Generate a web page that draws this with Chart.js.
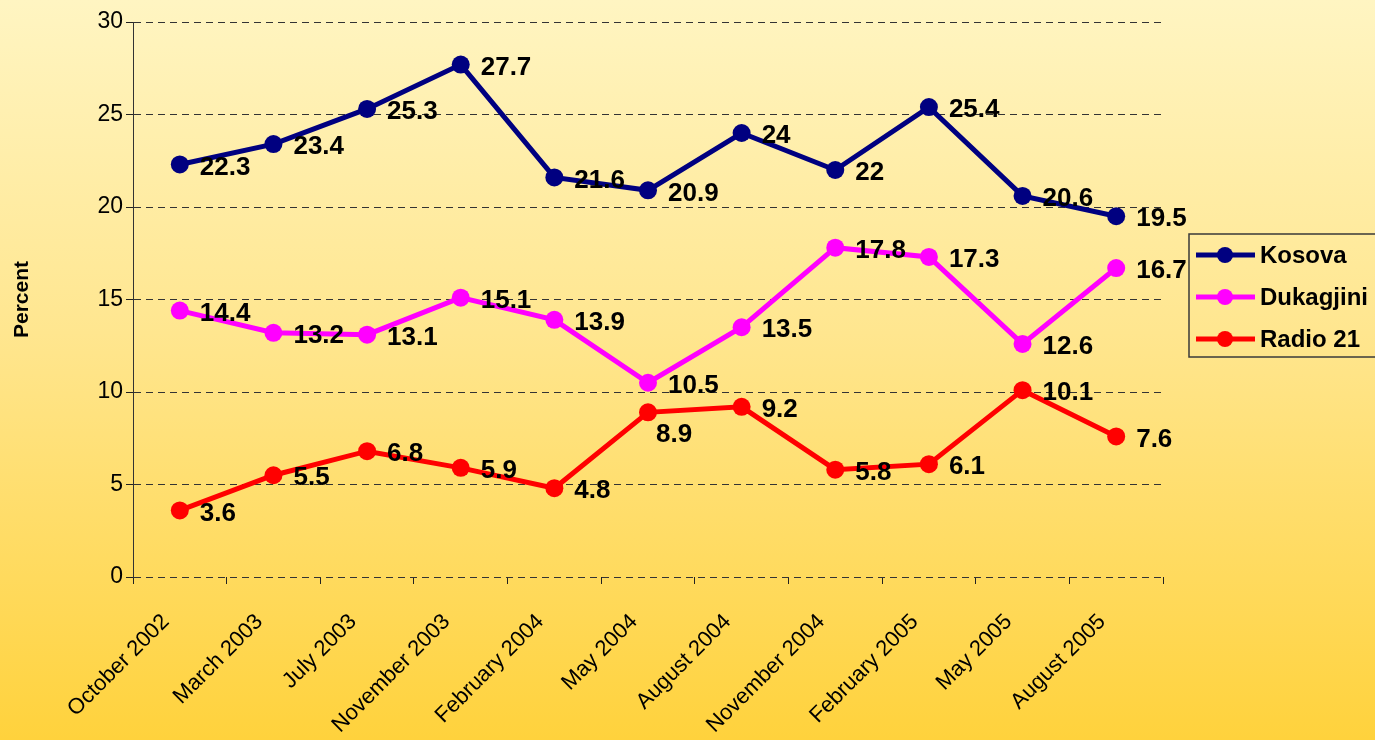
<!DOCTYPE html>
<html>
<head>
<meta charset="utf-8">
<script src="https://cdn.jsdelivr.net/npm/chart.js@4.4.1/dist/chart.umd.min.js"></script>
<style>
  html, body { margin: 0; padding: 0; }
  body {
    width: 1375px;
    height: 740px;
    overflow: hidden;
    background: linear-gradient(to bottom, #fff5c2 0%, #ffe68f 45%, #ffd23c 100%);
  }
  canvas { display: block; }
</style>
</head>
<body>
<canvas id="pollChart" width="1375" height="740"></canvas>
<script>
// values
const months = ["October 2002", "March 2003", "July 2003", "November 2003", "February 2004",
    "May 2004", "August 2004", "November 2004", "February 2005", "May 2005", "August 2005"];
const kosova = [22.3, 23.4, 25.3, 27.7, 21.6, 20.9, 24, 22, 25.4, 20.6, 19.5];
const dukagjini = [14.4, 13.2, 13.1, 15.1, 13.9, 10.5, 13.5, 17.8, 17.3, 12.6, 16.7];
const radio21 = [3.6, 5.5, 6.8, 5.9, 4.8, 8.9, 9.2, 5.8, 6.1, 10.1, 7.6];
const yTicks = [0, 5, 10, 15, 20, 25, 30];

const FONT = "Arial, 'Liberation Sans', sans-serif";

function makeSet(label, data, color) {
    return {
        label: label,
        data: data,
        borderColor: color,
        backgroundColor: color,
        borderWidth: 5,
        pointRadius: 9,
        pointHoverRadius: 9,
        pointBackgroundColor: color,
        pointBorderColor: color,
        pointBorderWidth: 0,
        tension: 0
    };
}

// value labels, right of each point (8.9 sits below its point)
const valueLabels = {
    id: "valueLabels",
    afterDatasetsDraw(chart) {
        const ctx = chart.ctx;
        ctx.save();
        ctx.font = "bold 26px " + FONT;
        ctx.fillStyle = "#000";
        ctx.textAlign = "left";
        ctx.textBaseline = "middle";
        chart.data.datasets.forEach((ds, di) => {
            chart.getDatasetMeta(di).data.forEach((pt, i) => {
                let dx = 20, dy = 3;
                if (di === 2 && i === 5) { dx = 8; dy = 22; }
                ctx.fillText(String(ds.data[i]), pt.x + dx, pt.y + dy);
            });
        });
        ctx.restore();
    }
};

// boxed legend at the right side
const boxLegend = {
    id: "boxLegend",
    afterDraw(chart) {
        const ctx = chart.ctx;
        const x0 = chart.chartArea.right + 26;
        const y0 = 234;
        ctx.save();
        ctx.strokeStyle = "#3a3a3a";
        ctx.lineWidth = 1.5;
        ctx.strokeRect(x0, y0, 220, 123);
        ctx.font = "bold 24px " + FONT;
        ctx.textBaseline = "middle";
        ctx.textAlign = "left";
        chart.data.datasets.forEach((ds, i) => {
            const y = y0 + 21 + i * 42;
            ctx.strokeStyle = ds.borderColor;
            ctx.lineWidth = 5;
            ctx.beginPath();
            ctx.moveTo(x0 + 7, y);
            ctx.lineTo(x0 + 66, y);
            ctx.stroke();
            ctx.fillStyle = ds.borderColor;
            ctx.beginPath();
            ctx.arc(x0 + 36, y, 8, 0, Math.PI * 2);
            ctx.fill();
            ctx.fillStyle = "#000";
            ctx.fillText(ds.label, x0 + 71, y + 1);
        });
        ctx.restore();
    }
};

new Chart(document.getElementById("pollChart"), {
    type: "line",
    data: {
        labels: months,
        datasets: [
            makeSet("Kosova", kosova, "#000080"),
            makeSet("Dukagjini", dukagjini, "#ff00ff"),
            makeSet("Radio 21", radio21, "#ff0000")
        ]
    },
    options: {
        responsive: false,
        animation: false,
        devicePixelRatio: 1,
        layout: { padding: { top: 22, right: 212, bottom: 0, left: 0 } },
        plugins: {
            legend: { display: false },
            tooltip: { enabled: false }
        },
        scales: {
            x: {
                offset: true,
                grid: {
                    offset: true,
                    drawOnChartArea: false,
                    drawTicks: true,
                    tickLength: 7,
                    tickColor: "#222",
                    tickWidth: 1
                },
                border: { display: false },
                ticks: {
                    color: "#000",
                    font: { family: FONT, size: 22 },
                    minRotation: 45,
                    maxRotation: 45,
                    padding: 25,
                    labelOffset: -14,
                    autoSkip: false
                },
                afterFit(scale) { scale.height = 163; }
            },
            y: {
                min: 0,
                max: 30,
                afterBuildTicks(scale) {
                    scale.ticks = yTicks.map(v => ({ value: v }));
                },
                grid: {
                    color: "#333",
                    lineWidth: 1,
                    borderDash: [7, 5],
                    tickLength: 7,
                    tickColor: "#222",
                    tickBorderDash: []
                },
                border: { display: true, color: "#333", dash: [7, 5], width: 1 },
                ticks: {
                    color: "#000",
                    font: { family: FONT, size: 23 },
                    padding: 3
                },
                title: {
                    display: true,
                    text: "Percent",
                    color: "#000",
                    font: { family: FONT, size: 21, weight: "bold" },
                    padding: { top: 10, bottom: 0 }
                },
                afterFit(scale) { scale.width = 133; }
            }
        }
    },
    plugins: [valueLabels, boxLegend]
});
</script>
</body>
</html>
